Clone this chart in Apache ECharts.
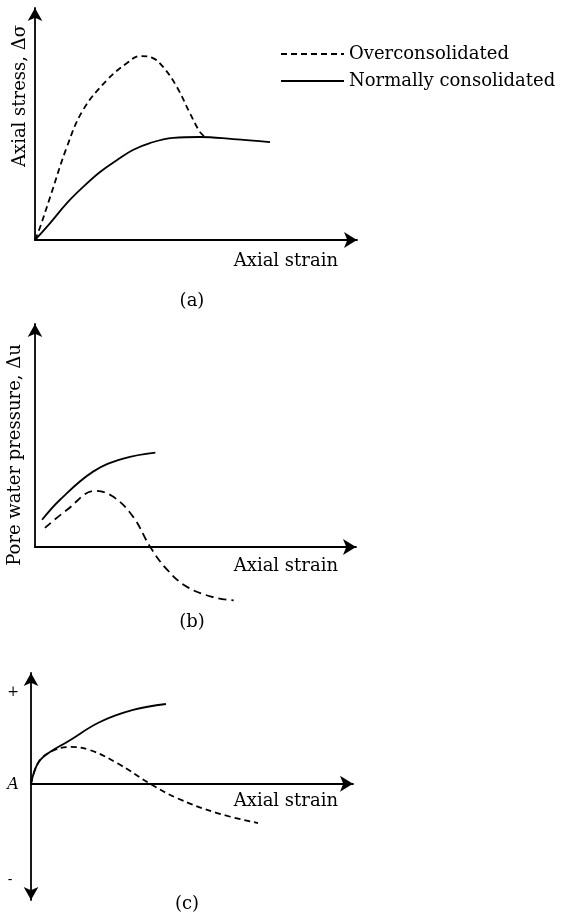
<!DOCTYPE html>
<html>
<head>
<meta charset="utf-8">
<script src="https://cdn.jsdelivr.net/npm/echarts@6/dist/echarts.min.js"></script>
<style>html,body{margin:0;padding:0;background:#fff;}#chart{width:565px;height:917px;}</style>
</head>
<body>
<div id="chart"></div>
<script>
// Panel (a): axial stress vs axial strain
var stressOC = [[0,0],[0.16,0.56],[0.47,1.85],[0.99,4.01],[1.49,5.60],[2.24,6.90],[2.86,7.63],[3.26,7.93],[3.66,7.84],[3.98,7.46],[4.41,6.59],[4.81,5.47],[5.12,4.66],[5.28,4.44]];
var stressNC = [[0,0],[0.47,0.73],[0.99,1.59],[1.49,2.28],[2.02,2.93],[2.55,3.45],[3.04,3.88],[3.57,4.18],[4.29,4.40],[5.12,4.44],[6.15,4.35],[7.30,4.22]];
// Panel (b): pore water pressure vs axial strain
var poreNC = [[0.22,1.22],[0.78,2.12],[1.81,3.38],[2.75,3.96],[3.75,4.23]];
var poreOC = [[0.31,0.86],[1.00,1.67],[1.88,2.52],[2.44,2.25],[3.06,1.35],[3.59,0],[4.13,-1.04],[4.75,-1.80],[5.56,-2.25],[6.19,-2.39]];
// Panel (c): pore pressure parameter A vs axial strain
var paramNC = [[0,0],[0.22,1.87],[0.59,2.86],[1.12,3.77],[2.14,5.57],[3.17,6.66],[4.19,7.20]];
var paramOC = [[0,0],[0.22,1.87],[0.59,2.86],[1.21,3.32],[1.83,3.04],[2.67,1.87],[3.70,0],[4.53,-1.29],[5.78,-2.65],[7.05,-3.55]];

var seriesNames = ['Overconsolidated', 'Normally consolidated'];
var xLabel = 'Axial strain';
var yLabels = ['Axial stress, Δσ', 'Pore water pressure, Δu'];
var panelLabels = ['(a)', '(b)', '(c)'];
var signLabels = ['+', 'A', '-'];

var FONT = 'DejaVu Serif';
var chart = echarts.init(document.getElementById('chart'), null, {renderer: 'canvas'});

function xAxisDef(gi, onZero) {
  return {
    type: 'value', gridIndex: gi, min: 0, max: 10,
    axisLine: {onZero: onZero, lineStyle: {color: '#000', width: 1.8}, symbol: ['none', 'arrow'], symbolSize: [12, 13], symbolOffset: [0, 0]},
    axisTick: {show: false}, axisLabel: {show: false}, splitLine: {show: false}
  };
}
function yAxisDef(gi, min, max, both) {
  return {
    type: 'value', gridIndex: gi, min: min, max: max,
    axisLine: {onZero: false, lineStyle: {color: '#000', width: 1.8}, symbol: both ? ['arrow', 'arrow'] : ['none', 'arrow'], symbolSize: [11, 13], symbolOffset: [0, 0]},
    axisTick: {show: false}, axisLabel: {show: false}, splitLine: {show: false}
  };
}
function line(name, data, gi, dashed, dash) {
  return {
    name: name, type: 'line', xAxisIndex: gi, yAxisIndex: gi, data: data,
    smooth: 0.4, symbol: 'none', clip: false, silent: true,
    lineStyle: {color: '#000', width: 1.8, type: dashed ? dash : 'solid'},
    itemStyle: {color: '#000'}
  };
}
function txt(text, x, y, opts) {
  opts = opts || {};
  return {
    type: 'text', x: x, y: y, rotation: opts.rotation || 0, silent: true,
    style: {text: text, fill: '#000', font: (opts.style || 'normal') + ' ' + (opts.size || 18) + 'px "' + FONT + '"', textAlign: opts.align || 'center', textVerticalAlign: 'middle'}
  };
}

var option = {
  backgroundColor: '#fff',
  animation: false,
  grid: [
    {left: 35, top: 8, width: 322, height: 232},
    {left: 35, top: 324, width: 321, height: 223},
    {left: 31, top: 673, width: 322, height: 227}
  ],
  xAxis: [xAxisDef(0, false), xAxisDef(1, false), xAxisDef(2, true)],
  yAxis: [yAxisDef(0, 0, 10, false), yAxisDef(1, 0, 10, false), yAxisDef(2, -10.5, 10, true)],
  legend: {
    data: seriesNames, orient: 'vertical', left: 280, top: 45, padding: 0,
    itemWidth: 63, itemHeight: 16, itemGap: 9,
    itemStyle: {opacity: 0},
    textStyle: {color: '#000', fontSize: 18, fontFamily: FONT}
  },
  series: [
    line(seriesNames[0], stressOC, 0, true, [6, 4]),
    line(seriesNames[1], stressNC, 0, false),
    line(seriesNames[1], poreNC, 1, false),
    line(seriesNames[0], poreOC, 1, true, [8, 5]),
    line(seriesNames[1], paramNC, 2, false),
    line(seriesNames[0], paramOC, 2, true, [6, 4])
  ],
  graphic: [
    txt(yLabels[0], 20, 96, {rotation: Math.PI / 2}),
    txt(yLabels[1], 15, 455, {rotation: Math.PI / 2}),
    txt(xLabel, 338, 261, {align: 'right'}),
    txt(xLabel, 338, 566, {align: 'right'}),
    txt(xLabel, 338, 801, {align: 'right'}),
    txt(panelLabels[0], 192, 301),
    txt(panelLabels[1], 192, 622),
    txt(panelLabels[2], 187, 904),
    txt(signLabels[0], 13, 692, {size: 14}),
    txt(signLabels[1], 13, 785, {style: 'italic', size: 16}),
    txt(signLabels[2], 10, 880, {size: 14})
  ]
};
chart.setOption(option);
</script>
</body>
</html>
